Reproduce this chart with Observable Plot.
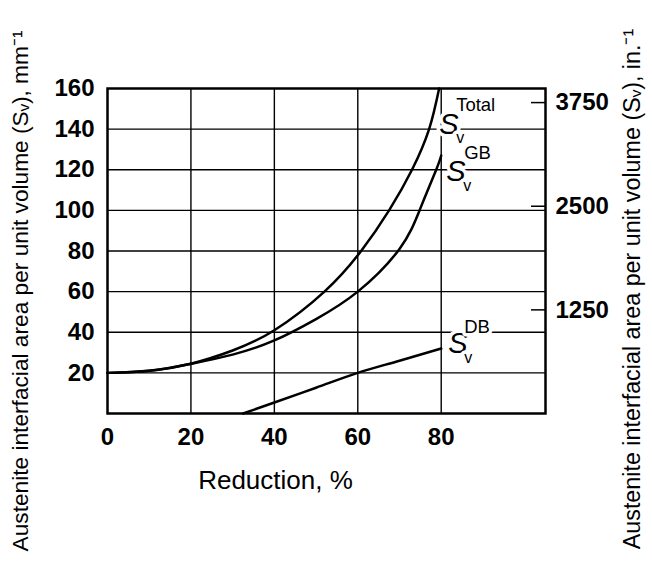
<!DOCTYPE html>
<html>
<head>
<meta charset="utf-8">
<script src="https://cdn.jsdelivr.net/npm/d3@7"></script>
<script src="https://cdn.jsdelivr.net/npm/@observablehq/plot@0.6"></script>
<style>
  html, body { margin: 0; padding: 0; background: #fff; }
  #chart svg { display: block; }
</style>
</head>
<body>
<div id="chart"></div>
<script>
// ---- data ----
const totalReduction = [0, 10, 20, 30, 40, 52, 60.8, 67.5, 73, 77.1, 79.5];
const totalSv        = [20, 21, 24.5, 31, 41, 60, 80, 100, 120, 140, 160];

const gbReduction = [0, 10, 20, 30, 40, 50, 60, 70, 75, 78.8, 80];
const gbSv        = [20, 21, 24.5, 29, 36, 46.5, 60, 81, 101, 120, 127];

const dbReduction = [32.5, 40, 50, 60, 70, 80];
const dbSv        = [0, 5.4, 12.7, 20, 26, 32];

const xTicks = [0, 20, 40, 60, 80];
const xGrid = [20, 40, 60, 80];
const yTicks = [20, 40, 60, 80, 100, 120, 140, 160];
const yGrid = [20, 40, 60, 80, 100, 120, 140];
const inchTicks = [1250, 2500, 3750];
const inchPerMm = 24.5; // ratio as drawn in the reference

const xTitle = "Reduction, %";
const yTitleLeft = "Austenite interfacial area per unit volume (S\u1D65), mm\u207B\u00B9";
const yTitleRight = "Austenite interfacial area per unit volume (S\u1D65), in.\u207B\u00B9";

const toRows = (xs, ys) => xs.map((x, i) => ({x, y: ys[i]}));
const total = toRows(totalReduction, totalSv);
const gb = toRows(gbReduction, gbSv);
const db = toRows(dbReduction, dbSv);

const font = "'Liberation Sans', Arial, Helvetica, sans-serif";

function curveLabel(rows, sup, o) {
  const end = [rows[rows.length - 1]];
  const common = {x: "x", y: "y", textAnchor: "start", lineAnchor: "bottom",
                  fill: "black", stroke: "white", strokeWidth: 7};
  return [
    Plot.text(end, {...common, text: () => "S", fontSize: 29, fontStyle: "italic", dx: o.sx, dy: o.sy}),
    Plot.text(end, {...common, text: () => sup, fontSize: 18.5, dx: o.px, dy: o.py}),
    Plot.text(end, {...common, text: () => "v", fontSize: 16, dx: o.vx, dy: o.vy})
  ];
}

const chart = Plot.plot({
  width: 652,
  height: 568,
  marginLeft: 107,
  marginRight: 107,
  marginTop: 88,
  marginBottom: 155,
  style: {fontFamily: font, background: "#fff", color: "#000"},
  x: {domain: [0, 105]},
  y: {domain: [0, 160]},
  marks: [
    Plot.gridX(xGrid, {stroke: "#000", strokeOpacity: 1, strokeWidth: 1.4}),
    Plot.gridY(yGrid, {stroke: "#000", strokeOpacity: 1, strokeWidth: 1.4}),
    ...curveLabel(total, "Total", {sx: 0, sy: 45, px: 17, py: 22, vx: 17, vy: 54}),
    ...curveLabel(gb, "GB", {sx: 5, sy: 25, px: 23, py: 3, vx: 22, vy: 35}),
    ...curveLabel(db, "DB", {sx: 7, sy: 4, px: 23, py: -16, vx: 23, vy: 14}),
    Plot.line(total, {x: "x", y: "y", curve: "natural", stroke: "#000", strokeWidth: 2.5}),
    Plot.line(gb, {x: "x", y: "y", curve: "natural", stroke: "#000", strokeWidth: 2.5}),
    Plot.line(db, {x: "x", y: "y", curve: "monotone-x", stroke: "#000", strokeWidth: 2.5}),
    Plot.axisX({ticks: xTicks, tickSize: 0, tickPadding: 14, fontSize: 24, fontWeight: "bold", label: null}),
    Plot.axisY({anchor: "left", ticks: yTicks, tickSize: 0, tickPadding: 13, fontSize: 24, fontWeight: "bold", label: null}),
    Plot.axisY({anchor: "right", ticks: inchTicks.map(v => v / inchPerMm), tickSize: 15, dx: -15, text: null, strokeWidth: 1.5, label: null}),
    Plot.axisY({anchor: "right", ticks: inchTicks.map(v => v / inchPerMm), tickSize: 0, tickPadding: 10,
                tickFormat: d => String(Math.round(d * inchPerMm / 250) * 250), fontSize: 24, fontWeight: "bold", label: null}),
    Plot.frame({stroke: "#000", strokeWidth: 2.5}),
    Plot.text([xTitle], {text: d => d, frameAnchor: "bottom", textAnchor: "middle", dx: -51, dy: 67, fontSize: 26, lineAnchor: "middle"}),
    Plot.text([yTitleLeft], {text: d => d, frameAnchor: "left", textAnchor: "middle", rotate: -90, dx: -87, dy: 40, fontSize: 22.7, lineAnchor: "middle"}),
    Plot.text([yTitleRight], {text: d => d, frameAnchor: "right", textAnchor: "middle", rotate: -90, dx: 87, dy: 38, fontSize: 23.3, lineAnchor: "middle"})
  ]
});
document.getElementById("chart").appendChild(chart);
</script>
</body>
</html>
